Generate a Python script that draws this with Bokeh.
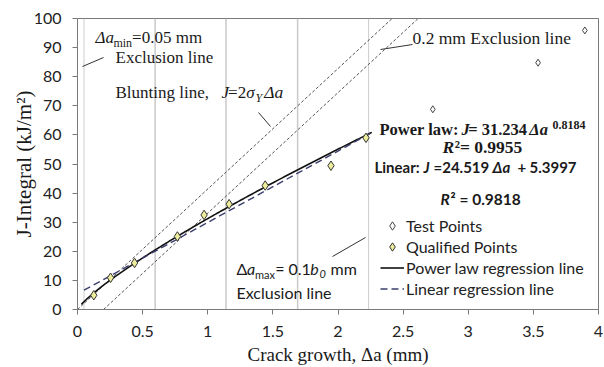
import numpy as np
from bokeh.plotting import figure
from bokeh.models import Label, Legend, LegendItem, Arrow, FixedTicker, Range1d
from bokeh.embed import file_html
from bokeh.resources import INLINE

# ---- data -------------------------------------------------------------
# qualified J-R points (crack growth in mm, J in kJ/m^2)
qual_da = [0.125, 0.254, 0.438, 0.767, 0.972, 1.164, 1.441, 1.946, 2.215]
qual_j = [4.9, 10.9, 16.0, 25.1, 32.5, 36.2, 42.6, 49.4, 59.0]
# remaining test points beyond the maximum crack growth limit
test_da = [2.728, 3.536, 3.895]
test_j = [68.8, 84.8, 95.9]

# regression results
pow_coef, pow_exp = 31.234, 0.8184
lin_slope, lin_icpt = 24.519, 5.3997

# construction lines
da_min, da_max = 0.05, 2.235
region_lines = [0.596, 1.14, 1.69]
blunt_slope = 41.4          # 2 * sigma_Y
blunt_offsets = [0.0, 0.2]  # blunting line and 0.2 mm exclusion line

x_ticks = [0, 0.5, 1, 1.5, 2, 2.5, 3, 3.5, 4]
y_ticks = [0, 10, 20, 30, 40, 50, 60, 70, 80, 90, 100]

SERIF = "Liberation Serif"
SANS = "Lato"
INK = "#1a1a1a"

LEFT, RIGHT, TOP, BOTTOM = 77, 6, 18, 57
W, H = 604, 367
FRAME_BOTTOM = H - BOTTOM

p = figure(width=W, height=H, x_range=Range1d(0, 4), y_range=Range1d(0, 100),
           output_backend="svg", toolbar_location=None,
           min_border_left=LEFT, min_border_right=RIGHT,
           min_border_top=TOP, min_border_bottom=BOTTOM)
p.xgrid.visible = False
p.ygrid.visible = False
p.outline_line_color = "#7a7a7a"
p.background_fill_color = "white"
p.border_fill_color = "white"

for ax, ticks in ((p.xaxis[0], x_ticks), (p.yaxis[0], y_ticks)):
    ax.ticker = FixedTicker(ticks=ticks)
    ax.minor_tick_line_color = None
    ax.major_tick_in = 0
    ax.major_tick_out = 5
    ax.axis_line_color = "#7a7a7a"
    ax.major_tick_line_color = "#7a7a7a"
    ax.major_label_text_font = SANS
    ax.major_label_text_font_size = "16px"
    ax.major_label_text_color = "#222222"
    ax.major_label_standoff = 11
    ax.axis_label_text_font = SERIF
    ax.axis_label_text_font_style = "normal"
    ax.axis_label_text_color = INK
p.xaxis.major_label_overrides = {0: "0", 1: "1", 2: "2", 3: "3", 4: "4"}
p.xaxis.axis_label = "Crack growth, Δa (mm)"
p.xaxis.axis_label_text_font_size = "19px"
p.xaxis.axis_label_standoff = 4
p.yaxis.axis_label = "J-Integral (kJ/m²)"
p.yaxis.axis_label_text_font_size = "21px"
p.yaxis.axis_label_standoff = -5

# ---- construction lines --------------------------------------------------
for xv in region_lines:
    p.line([xv, xv], [0, 100], line_color="#c9c9c9", line_width=1.5)
for xv in (da_min, da_max):
    p.line([xv, xv], [0, 100], line_color="#9a9a9a", line_width=1, line_dash="1 1")

j_span = np.array([0.0, 105.0])
for off in blunt_offsets:
    p.line(off + j_span / blunt_slope, j_span, line_color="#555555",
           line_width=1, line_dash="3 2")

# ---- regression curves ---------------------------------------------------
da_pow = np.linspace(0.03, 2.26, 200)
r_pow = p.line(da_pow, pow_coef * da_pow ** pow_exp, line_color="#111111", line_width=1.6)
da_lin = np.array([da_min, 2.25])
r_lin = p.line(da_lin, lin_slope * da_lin + lin_icpt, line_color="#3c3f6e",
               line_width=1.4, line_dash="7 4")

# ---- points --------------------------------------------------------------
r_test = p.scatter(test_da, test_j, marker="diamond", size=7, fill_color="white",
                   line_color="#444444", line_width=1)
r_qual = p.scatter(qual_da, qual_j, marker="diamond", size=9.5, fill_color="#eded9c",
                   line_color="#333333", line_width=1)

legend = Legend(items=[
    LegendItem(label="Test Points", renderers=[r_test]),
    LegendItem(label="Qualified Points", renderers=[r_qual]),
    LegendItem(label="Power law regression line", renderers=[r_pow]),
    LegendItem(label="Linear regression line", renderers=[r_lin]),
], location=(303, 10), orientation="vertical", margin=0, padding=0, spacing=0,
    label_height=21, glyph_height=21, glyph_width=24, label_standoff=2,
    label_text_font=SANS, label_text_font_size="16px", label_text_color="#222222",
    border_line_alpha=0, background_fill_alpha=0)
p.add_layout(legend)

# ---- text helpers ----------------------------------------------------------
SERIF_W = {" ": .25, "(": .333, ")": .333, "+": .564, ",": .25, "-": .333, ".": .25,
           "/": .278, ":": .278, "=": .564, "A": .722, "B": .667, "C": .667, "E": .611,
           "I": .333, "J": .389, "L": .611, "P": .556, "R": .667, "Y": .722,
           "a": .444, "b": .5, "c": .444, "e": .444, "g": .5, "h": .5, "i": .278,
           "k": .5, "l": .278, "m": .778, "n": .5, "o": .5, "r": .333, "s": .389,
           "t": .278, "u": .5, "w": .722, "x": .5, "²": .3, "Δ": .612, "σ": .55}
SANS_W = {" ": .2, ".": .25, ":": .24, "=": .58, "+": .58, "a": .50, "b": .58,
          "c": .47, "d": .56, "e": .53, "f": .33, "g": .51, "h": .56, "i": .24,
          "l": .24, "m": .83, "n": .56, "o": .56, "r": .37, "s": .43, "t": .35,
          "u": .56, "x": .50, "w": .77, "E": .57, "L": .50, "P": .60, "Q": .75,
          "R": .62, "T": .55, "J": .45, "Δ": .66, "²": .38}


def text_width(txt, font, size, style):
    table = SERIF_W if font == SERIF else SANS_W
    w = 0.0
    for ch in txt:
        w += table.get(ch, 0.5 if font == SERIF else 0.58)
    if "bold" in style:
        w *= 1.04
    return w * size


def put(pieces, px, py):
    """Lay out a run of styled text pieces; (px, py) is the pixel baseline start.

    A piece may carry its own absolute pixel start as a sixth element."""
    adv = float(px)
    for piece in pieces:
        txt, font, size, style, rise = piece[:5]
        if len(piece) > 5:
            adv = float(piece[5])
        # bokeh's alphabetic anchor sits about a descender below the baseline
        lift = 0.30 * size
        p.add_layout(Label(x=adv - LEFT, y=FRAME_BOTTOM - py + rise + lift,
                           x_units="screen", y_units="screen", text=txt,
                           text_font=font, text_font_size=f"{size}px",
                           text_font_style=style, text_baseline="alphabetic",
                           text_align="left", text_color=INK))
        adv += text_width(txt, font, size, style)


def leader(x0, y0, x1, y1):
    p.add_layout(Arrow(end=None, x_start=x0 - LEFT, y_start=FRAME_BOTTOM - y0,
                       x_end=x1 - LEFT, y_end=FRAME_BOTTOM - y1,
                       start_units="screen", end_units="screen",
                       line_color="#333333", line_width=1))


# minimum crack growth exclusion line
put([("Δa", SERIF, 17, "italic", 0), ("min", SERIF, 12, "normal", -4),
     ("=0.05 mm", SERIF, 17, "normal", 0)], 95, 43)
put([("Exclusion line", SERIF, 17, "normal", 0)], 115, 63)
leader(82, 67, 103, 58)

# blunting line
put([("Blunting line,", SERIF, 17, "normal", 0), ("J", SERIF, 17, "italic", 0, 221),
     ("=2", SERIF, 17, "normal", 0), ("σ", SERIF, 17, "italic", 0),
     ("Y", SERIF, 12, "italic", -4), ("Δa", SERIF, 17.5, "italic", 0)], 115, 98)
leader(258, 113, 270, 127)

# 0.2 mm exclusion line
put([("0.2 mm Exclusion line", SERIF, 17.5, "normal", 0)], 412, 44)
leader(380, 50, 412, 45)

# fit equations
put([("Power law: ", SERIF, 16.5, "bold", 0), ("J", SERIF, 16.5, "bold italic", 0),
     ("= 31.234", SERIF, 16.5, "bold", 0), ("Δa", SERIF, 16.5, "bold italic", 0),
     ("0.8184", SERIF, 12, "bold", 6, 552)], 379, 135)
put([("R", SERIF, 17.5, "bold italic", 0), ("²= 0.9955", SERIF, 17.5, "bold", 0)],
    442, 153)
put([("Linear:", SANS, 15, "bold", 0), ("J", SANS, 15, "bold italic", 0, 423),
     ("=24.519", SANS, 15, "bold", 0, 433), ("Δa", SANS, 15, "bold italic", 0, 492),
     ("+", SANS, 15, "bold", 0, 517), ("5.3997", SANS, 15, "bold", 0, 529)], 374, 172)
put([("R", SANS, 15.5, "bold italic", 0), ("² = 0.9818", SANS, 15.5, "bold", 0)],
    440, 204)

# maximum crack growth exclusion line
put([("Δ", SANS, 16, "normal", 0), ("a", SANS, 16, "italic", 0),
     ("max", SANS, 11, "normal", -4), ("= 0.1", SANS, 16, "normal", 0),
     ("b", SANS, 16, "italic", 0), ("0", SANS, 11, "italic", -4),
     ("mm", SANS, 16, "normal", 0, 330)], 236, 274)
put([("Exclusion line", SANS, 16, "normal", 0)], 236, 298)
leader(332, 257, 365, 238)

open("out.html", "w").write(file_html(p, INLINE))
